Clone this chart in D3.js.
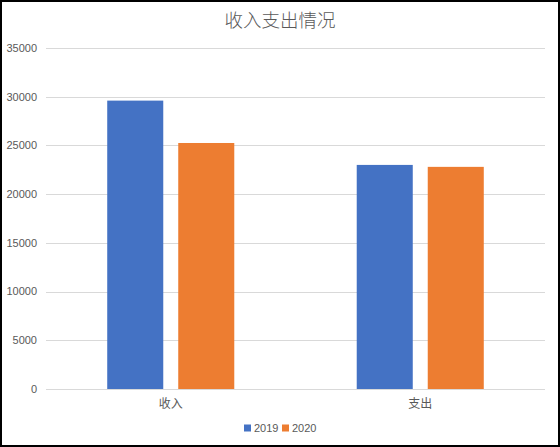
<!DOCTYPE html>
<html>
<head>
<meta charset="utf-8">
<script src="https://cdn.jsdelivr.net/npm/d3@7"></script>
<style>
  body { margin: 0; background: #fff; }
  text { fill: #595959; }
</style>
</head>
<body>
<div id="chart"></div>
<script>
const categories = ["收入", "支出"];
const years = ["2019", "2020"];
const values2019 = [29600, 23000];
const values2020 = [25250, 22800];
const yTicks = [0, 5000, 10000, 15000, 20000, 25000, 30000, 35000];
const colors = ["#4472C4", "#ED7D31"];

const W = 560, H = 447;
const margin = { left: 46, right: 15, top: 48, bottom: 58 };
const cjk = "'Noto Sans CJK SC', 'Noto Sans', sans-serif";
const num = "'Liberation Sans', Arial, sans-serif";

const series = [values2019, values2020];
const data = categories.map((c, i) => ({
    cat: c,
    vals: years.map((y, j) => ({ year: y, value: series[j][i], idx: j }))
}));

const svg = d3.select("#chart")
    .append("svg")
    .attr("width", W)
    .attr("height", H);

svg.append("rect")
    .attr("x", 0).attr("y", 0)
    .attr("width", W).attr("height", H)
    .attr("fill", "#fff");

const x0 = d3.scaleBand()
    .domain(categories)
    .range([margin.left, W - margin.right]);

const x1 = d3.scaleBand()
    .domain(years)
    .range([0, x0.bandwidth()])
    .paddingInner(0.211)
    .paddingOuter(0.862);

const y = d3.scaleLinear()
    .domain([0, 35000])
    .range([H - margin.bottom, margin.top]);

// gridlines
svg.append("g")
    .selectAll("line")
    .data(yTicks)
    .join("line")
    .attr("x1", margin.left)
    .attr("x2", W - margin.right)
    .attr("y1", d => Math.round(y(d)) + 0.5)
    .attr("y2", d => Math.round(y(d)) + 0.5)
    .attr("stroke", "#d9d9d9")
    .attr("stroke-width", 1);

// y tick labels
svg.append("g")
    .selectAll("text")
    .data(yTicks)
    .join("text")
    .attr("x", 37)
    .attr("y", d => y(d))
    .attr("dy", "0.35em")
    .attr("text-anchor", "end")
    .style("font-family", num)
    .style("font-size", "11px")
    .text(d => d);

// bars
svg.append("g")
    .selectAll("g")
    .data(data)
    .join("g")
    .attr("transform", d => `translate(${x0(d.cat)},0)`)
    .selectAll("rect")
    .data(d => d.vals)
    .join("rect")
    .attr("x", d => x1(d.year))
    .attr("y", d => y(d.value))
    .attr("width", x1.bandwidth())
    .attr("height", d => y(0) - y(d.value))
    .attr("fill", d => colors[d.idx]);

// category labels
svg.append("g")
    .selectAll("text")
    .data(categories)
    .join("text")
    .attr("x", d => x0(d) + x0.bandwidth() / 2)
    .attr("y", 404)
    .attr("dy", "0.35em")
    .attr("text-anchor", "middle")
    .style("font-family", cjk)
    .style("font-size", "12px")
    .text(d => d);

// title
svg.append("text")
    .attr("x", 280)
    .attr("y", 21)
    .attr("dy", "0.35em")
    .attr("text-anchor", "middle")
    .style("font-family", cjk)
    .style("font-size", "18.5px")
    .style("font-weight", 300)
    .text("收入支出情况");

// legend
const legendX = [244, 282];
const leg = svg.append("g")
    .selectAll("g")
    .data(years)
    .join("g")
    .attr("transform", (d, i) => `translate(${legendX[i]},428)`);
leg.append("rect")
    .attr("x", 0).attr("y", -3.5)
    .attr("width", 7).attr("height", 7)
    .attr("fill", (d, i) => colors[i]);
leg.append("text")
    .attr("x", 10)
    .attr("y", 0)
    .attr("dy", "0.35em")
    .style("font-family", num)
    .style("font-size", "11px")
    .text(d => d);

// outer border
svg.append("rect")
    .attr("x", 1).attr("y", 1)
    .attr("width", W - 2).attr("height", H - 2)
    .attr("fill", "none")
    .attr("stroke", "#000")
    .attr("stroke-width", 2);
</script>
</body>
</html>
